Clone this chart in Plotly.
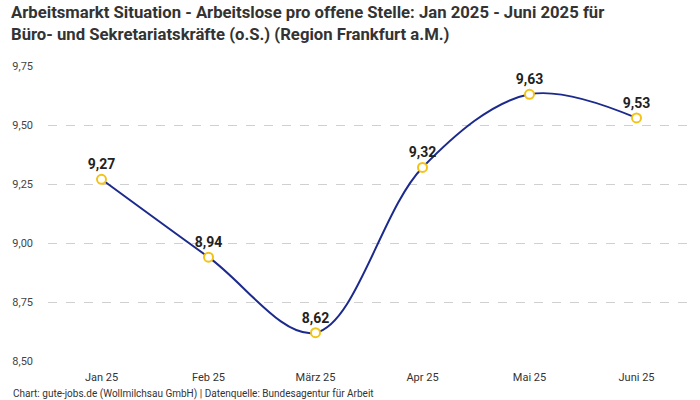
import plotly.graph_objects as go

months = ["Jan 25", "Feb 25", "März 25", "Apr 25", "Mai 25", "Juni 25"]
values = [9.27, 8.94, 8.62, 9.32, 9.63, 9.53]
labels = ["9,27", "8,94", "8,62", "9,32", "9,63", "9,53"]
yticks = [8.50, 8.75, 9.00, 9.25, 9.50, 9.75]
ytick_text = ["8,50", "8,75", "9,00", "9,25", "9,50", "9,75"]

title = ("<b>Arbeitsmarkt Situation - Arbeitslose pro offene Stelle: Jan 2025 - Juni 2025 für<br>"
         "Büro- und Sekretariatskräfte (o.S.) (Region Frankfurt a.M.)</b>")
source = "Chart: gute-jobs.de (Wollmilchsau GmbH) | Datenquelle: Bundesagentur für Arbeit"

fig = go.Figure()
fig.add_trace(go.Scatter(
    x=months, y=values, mode="lines+markers+text",
    line=dict(color="#1b2a8c", width=2, shape="spline", smoothing=1.0),
    marker=dict(size=9, color="white", line=dict(color="#f2c318", width=2)),
    text=["<b>%s</b>" % t for t in labels], textposition="top center",
    textfont=dict(size=14, color="#222222", family="Roboto"),
    hoverinfo="skip", cliponaxis=False,
))

fig.update_layout(
    width=700, height=400,
    margin=dict(l=48, r=10, t=66, b=39),
    paper_bgcolor="white", plot_bgcolor="white",
    font=dict(family="Roboto", color="#333333"),
    showlegend=False,
    xaxis=dict(type="category", range=[-0.5, 5.5], showgrid=False, zeroline=False,
               showline=False, ticks="", ticklabelstandoff=8,
               tickfont=dict(size=11, color="#333333")),
    yaxis=dict(range=[8.5, 9.75], tickvals=yticks, ticktext=ytick_text,
               showgrid=True, gridcolor="#d0d0d0", griddash="dash", gridwidth=1,
               zeroline=False, showline=False, ticks="", ticklabelstandoff=14,
               tickfont=dict(size=11, color="#444444")),
    annotations=[
        dict(text=title, xref="paper", yref="paper", x=-0.06, y=1.222,
             xanchor="left", yanchor="top", align="left", showarrow=False,
             font=dict(size=16.7, color="#333333", family="Roboto")),
        dict(text=source, xref="paper", yref="paper", x=-0.058, y=-0.085,
             xanchor="left", yanchor="top", showarrow=False,
             font=dict(size=10, color="#333333")),
    ],
)

fig.write_html("out.html", config={"displayModeBar": False},
               post_script="document.body.style.margin='0';")
